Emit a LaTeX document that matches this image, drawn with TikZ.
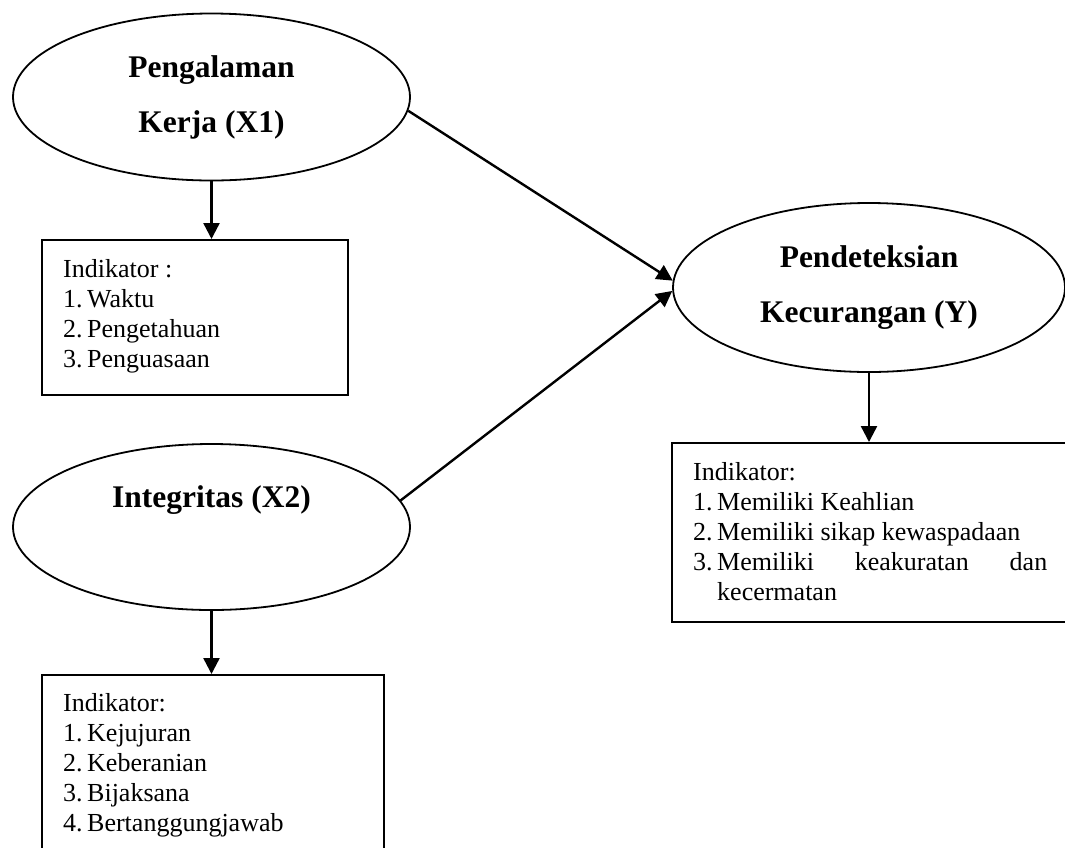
\documentclass[tikz,border=0pt]{standalone}
\usepackage{fontspec}
\setmainfont{Liberation Serif}
\usetikzlibrary{shapes.geometric,arrows.meta}

% numbered item with hanging indent
\newcommand{\numitem}[2]{\makebox[24pt][l]{#1}#2}

\begin{document}
\begin{tikzpicture}[x=1pt,y=-1pt,
  latent/.style={draw,ellipse,line width=1.8pt,inner sep=0pt},
  title/.style={font=\bfseries\fontsize{31.5}{55}\selectfont,anchor=base,inner sep=0pt},
  indbox/.style={draw,rectangle,line width=2pt,inner sep=0pt},
  indtext/.style={anchor=base west,inner sep=0pt},
  link/.style={line width=2.4pt,-{Triangle[length=16pt,width=16pt]}}]
\useasboundingbox (0,0) rectangle (1065,847);

% latent variables
\node[latent,minimum width=397pt,minimum height=167pt] (x1) at (211.5,97) {};
\node[title] (x1a) at (211.5,77) {Pengalaman};
\node[title] (x1b) at (211.5,132) {Kerja (X1)};

\node[latent,minimum width=397pt,minimum height=166pt] (x2) at (211.5,527) {};
\node[title] (x2a) at (211.5,507) {Integritas (X2)};

\node[latent,minimum width=392pt,minimum height=169pt] (y) at (869,287.5) {};
\node[title] (ya) at (869,267) {Pendeteksian};
\node[title] (yb) at (869,322) {Kecurangan (Y)};

% indicator boxes
\node[indbox,minimum width=306pt,minimum height=155pt] (b1) at (195,317.5) {};
\node[indtext] (b1t) at (63,277) {\parbox[t]{280pt}{\fontsize{26}{30}\selectfont\raggedright
  Indikator :\\
  \numitem{1.}{Waktu}\\
  \numitem{2.}{Pengetahuan}\\
  \numitem{3.}{Penguasaan}}};

\node[indbox,minimum width=342pt,minimum height=200pt] (b2) at (213,775) {};
\node[indtext] (b2t) at (63,711) {\parbox[t]{310pt}{\fontsize{26}{30}\selectfont\raggedright
  Indikator:\\
  \numitem{1.}{Kejujuran}\\
  \numitem{2.}{Keberanian}\\
  \numitem{3.}{Bijaksana}\\
  \numitem{4.}{Bertanggungjawab}}};

\node[indbox,minimum width=403pt,minimum height=179pt] (by) at (873.5,532.5) {};
\node[indtext] (byt) at (693,480) {\parbox[t]{360pt}{\fontsize{26}{30}\selectfont\raggedright
  Indikator:\\
  \numitem{1.}{Memiliki Keahlian}\\
  \numitem{2.}{Memiliki sikap kewaspadaan}\\
  \numitem{3.}{\makebox[330pt][s]{Memiliki\hfill keakuratan\hfill dan}}\\
  \hspace*{24pt}kecermatan}};

% connectors
\draw[link] (x1.south) -- (x1.south |- b1.north);
\draw[link] (x2.south) -- (x2.south |- b2.north);
\draw[link] (y.south) -- (y.south |- by.north);
\draw[link] (x1.-4) -- (y.178.5);
\draw[link] (x2.8) -- (y.181.5);
\end{tikzpicture}
\end{document}
